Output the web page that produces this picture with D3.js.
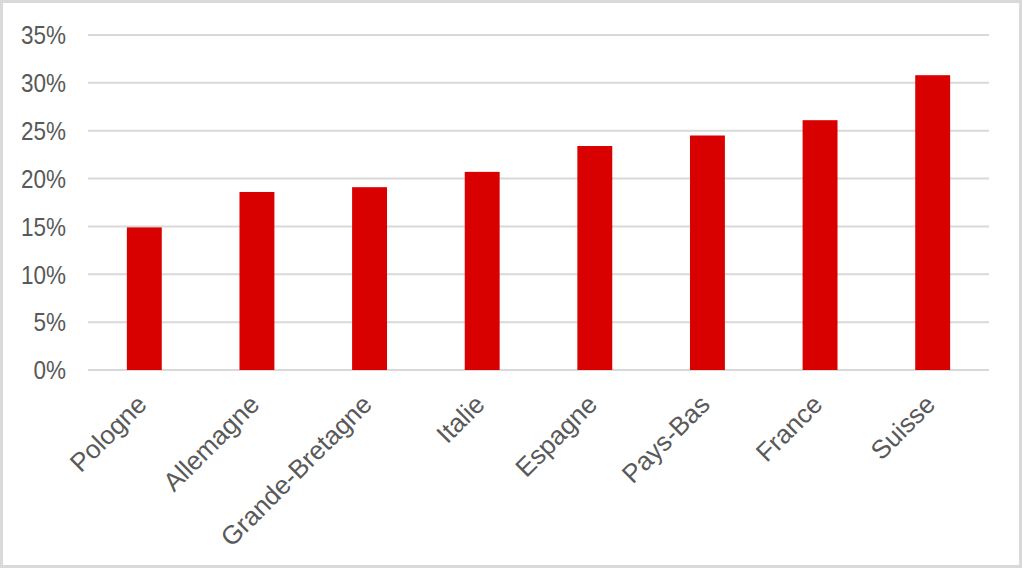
<!DOCTYPE html>
<html>
<head>
<meta charset="utf-8">
<script src="https://cdn.jsdelivr.net/npm/d3@7"></script>
<style>
  body { margin: 0; background: #fff; }
  text { font-family: "Liberation Sans", Arial, sans-serif; fill: #595959; }
</style>
</head>
<body>
<div id="chart"></div>
<script>
const width = 1024,
  height = 570;

const pays = ['Pologne', 'Allemagne', 'Grande-Bretagne', 'Italie', 'Espagne', 'Pays-Bas', 'France', 'Suisse'];
const parts = [14.9, 18.6, 19.1, 20.7, 23.4, 24.5, 26.1, 30.8];
const ticks = [0, 5, 10, 15, 20, 25, 30, 35];

const margin = { top: 35, right: 35, bottom: 200, left: 88 };

const svg = d3.select('#chart').append('svg')
  .attr('width', width)
  .attr('height', height);

// cadre gris autour du graphique
svg.append('rect')
  .attr('x', 1.5).attr('y', 1.5)
  .attr('width', 1019).attr('height', 565)
  .attr('fill', 'none')
  .attr('stroke', '#d9d9d9')
  .attr('stroke-width', 3);

const x = d3.scaleBand()
  .domain(pays)
  .range([margin.left, 989])
  .paddingInner(0.69)
  .paddingOuter(0.345);

const y = d3.scaleLinear()
  .domain([0, 35])
  .range([370, margin.top]);

// grille
svg.append('g')
  .selectAll('line')
  .data(ticks)
  .enter()
  .append('line')
  .attr('x1', margin.left)
  .attr('x2', 989)
  .attr('y1', d => y(d))
  .attr('y2', d => y(d))
  .attr('stroke', '#d9d9d9')
  .attr('stroke-width', 2);

const yAxis = svg.append('g')
  .attr('transform', `translate(${margin.left - 22},0)`)
  .call(d3.axisLeft(y).tickValues(ticks).tickFormat(d => `${d}%`).tickSize(0).tickPadding(0));
yAxis.select('.domain').remove();
yAxis.selectAll('text')
  .style('font-size', '22.5px')
  .attr('dy', '0.34em')
  .attr('transform', 'scale(1,1.15)');

svg.append('g')
  .selectAll('rect')
  .data(parts)
  .enter()
  .append('rect')
  .attr('x', (d, i) => x(pays[i]))
  .attr('y', d => y(d))
  .attr('width', x.bandwidth())
  .attr('height', d => y(0) - y(d))
  .attr('fill', '#d90000');

const xAxis = svg.append('g')
  .attr('transform', `translate(0,${y(0)})`)
  .call(d3.axisBottom(x).tickSize(0).tickPadding(0));
xAxis.select('.domain').remove();
xAxis.selectAll('text')
  .style('font-size', '26px')
  .attr('text-anchor', 'end')
  .attr('dy', '0')
  .attr('transform', 'translate(4,36) rotate(-45)');
</script>
</body>
</html>
